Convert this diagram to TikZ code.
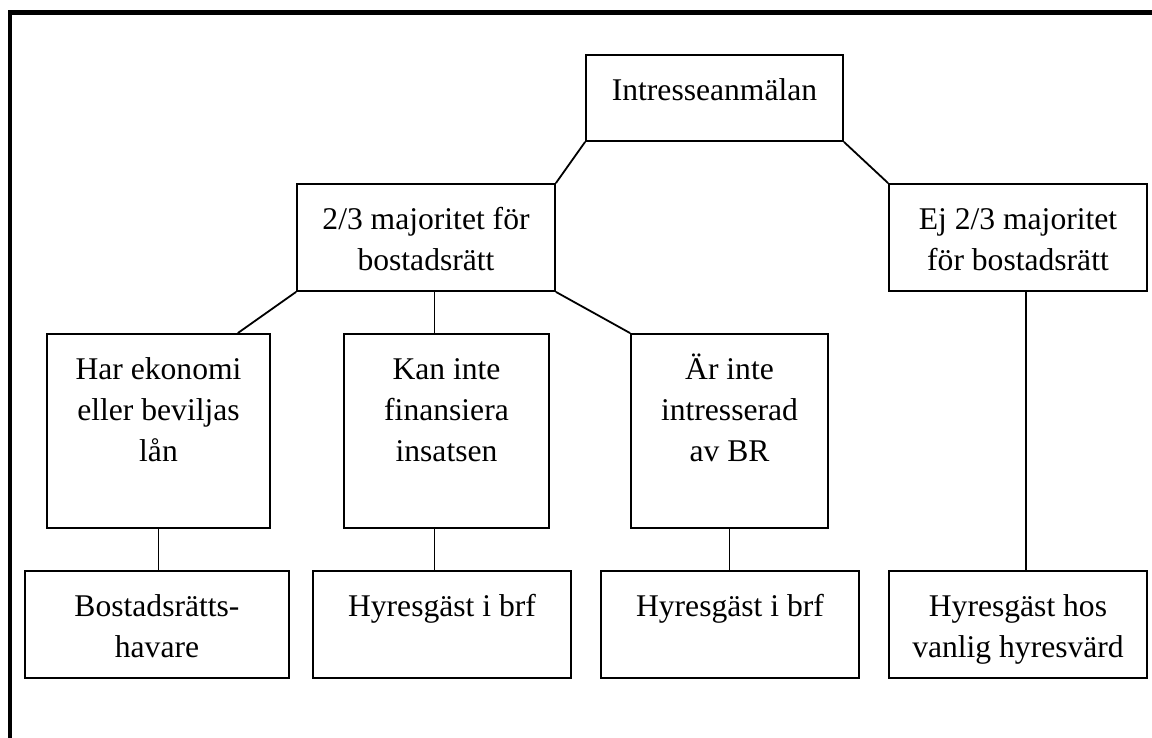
\documentclass[tikz,border=0pt]{standalone}
\usepackage{fontspec}
\setmainfont{Liberation Serif}
\usetikzlibrary{calc}

% fixed height for the first line of each text
\newcommand{\fst}{\rule{0pt}{14pt}}

\begin{document}
\begin{tikzpicture}[x=0.5pt, y=-0.5pt, line join=miter,
    cell/.style 2 args={draw, line width=0.9pt, inner sep=0pt, minimum width=#1, minimum height=#2},
    txt/.style={anchor=north, align=center, inner sep=0pt, font=\fontsize{15.8}{20.5}\selectfont},
    link/.style={line width=0.9pt}]
      % baseline 23pt below the top edge, minus the rule height
      \def\top{9pt}

      \useasboundingbox (0,0) rectangle (1152,738);
      \clip (0,0) rectangle (1152,738);

      % Outer frame
      \draw[line width=2.25pt] (10,12.5) rectangle (1300,900);

      % Top level
      \node[cell={128.5pt}{43pt}] (intr) at (714.5,98) {};
      % Second level
      \node[cell={129pt}{53.5pt}] (maj) at (426,237.5) {};
      \node[cell={129pt}{53.5pt}] (ej) at (1018,237.5) {};
      % Third level
      \node[cell={111.5pt}{97pt}] (har) at (158.5,431) {};
      \node[cell={102.5pt}{97pt}] (kan) at (446.5,431) {};
      \node[cell={98.5pt}{97pt}] (ar) at (729.5,431) {};
      % Bottom level
      \node[cell={132pt}{53.5pt}] (bost) at (157,624.5) {};
      \node[cell={129pt}{53.5pt}] (hyr1) at (442,624.5) {};
      \node[cell={129pt}{53.5pt}] (hyr2) at (730,624.5) {};
      \node[cell={129pt}{53.5pt}] (hyrv) at (1018,624.5) {};

      % Texts
      \node[txt] (intr-t) at ([yshift=-\top]intr.north) {\fst Intresseanmälan};
      \node[txt] (maj-t) at ([yshift=-\top]maj.north) {\fst 2/3 majoritet för\\bostadsrätt};
      \node[txt] (ej-t) at ([yshift=-\top]ej.north) {\fst Ej 2/3 majoritet\\för bostadsrätt};
      \node[txt] (har-t) at ([yshift=-\top]har.north) {\fst Har ekonomi\\eller beviljas\\lån};
      \node[txt] (kan-t) at ([yshift=-\top]kan.north) {\fst Kan inte\\finansiera\\insatsen};
      \node[txt] (ar-t) at ([yshift=-\top]ar.north) {\fst Är inte\\intresserad\\av BR};
      \node[txt] (bost-t) at ([yshift=-\top]bost.north) {\fst Bostadsrätts-\\havare};
      \node[txt] (hyr1-t) at ([yshift=-\top]hyr1.north) {\fst Hyresgäst i brf};
      \node[txt] (hyr2-t) at ([yshift=-\top]hyr2.north) {\fst Hyresgäst i brf};
      \node[txt] (hyrv-t) at ([yshift=-\top]hyrv.north) {\fst Hyresgäst hos\\vanlig hyresvärd};

      % Connectors
      \draw[link] (intr.south west) -- (maj.north east);
      \draw[link] (intr.south east) -- (ej.north west);
      \draw[link] (maj.south west) -- (har.51);
      \draw[link] (maj.south -| kan.97.3) -- (kan.97.3);
      \draw[link] (maj.south east) -- (ar.north west);
      \draw[link] (har.south) -- (har.south |- bost.north);
      \draw[link] (kan.-97.3) -- (kan.-97.3 |- hyr1.north);
      \draw[link] (ar.south) -- (ar.south |- hyr2.north);
      \draw[link] (ej.-82.5) -- (ej.-82.5 |- hyrv.north);

    \end{tikzpicture}
\end{document}
